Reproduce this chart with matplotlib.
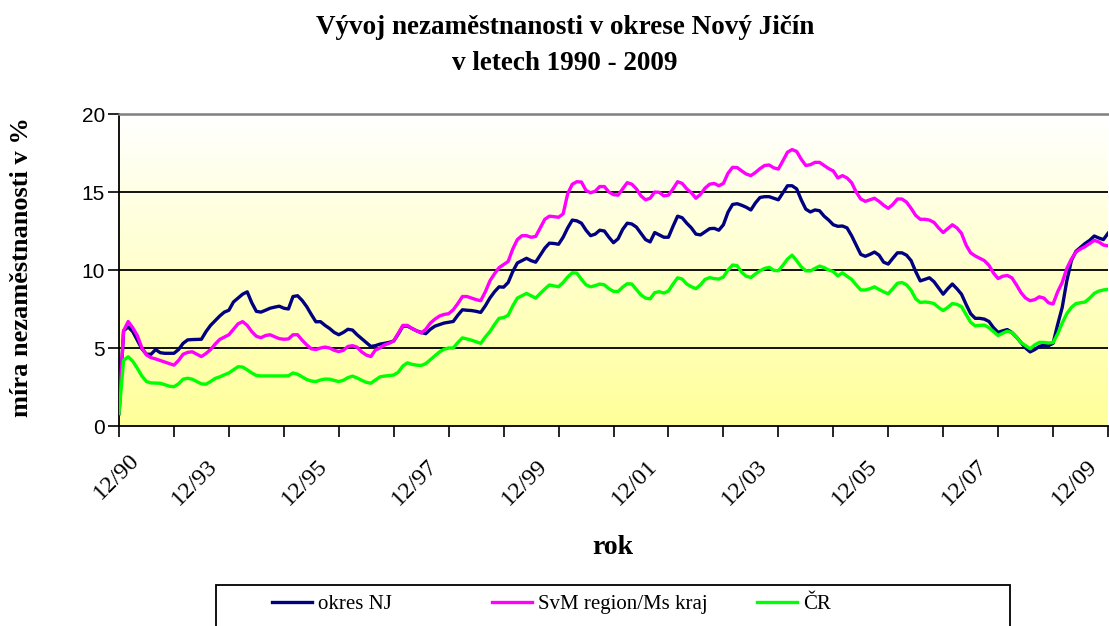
import matplotlib
matplotlib.use('Agg')
import matplotlib.pyplot as plt
import numpy as np
from matplotlib.colors import LinearSegmentedColormap
from matplotlib.patches import Rectangle
from matplotlib.transforms import ScaledTranslation

# ---- data (monthly unemployment rate, %) ----
okres_nj = [
    0.8, 6.1, 6.35, 6.05, 5.5, 4.95, 4.6, 4.6, 4.9, 4.7, 4.66, 4.66, 4.66, 4.9, 5.3, 5.52, 5.54, 5.55, 5.56, 6.05,
    6.45, 6.75, 7.05, 7.3, 7.42, 7.95, 8.2, 8.45, 8.6, 7.9, 7.35, 7.3, 7.42, 7.55, 7.62, 7.68, 7.55, 7.5, 8.3, 8.35,
    8.05, 7.65, 7.15, 6.68, 6.69, 6.45, 6.25, 6.0, 5.85, 6.0, 6.2, 6.15, 5.85, 5.6, 5.35, 5.1, 5.15, 5.25, 5.3, 5.36,
    5.45, 5.9, 6.4, 6.4, 6.25, 6.1, 6.0, 5.92, 6.2, 6.4, 6.5, 6.6, 6.65, 6.7, 7.1, 7.45, 7.42, 7.4, 7.35, 7.28,
    7.7, 8.2, 8.6, 8.92, 8.9, 9.2, 9.9, 10.45, 10.6, 10.75, 10.6, 10.5, 10.95, 11.4, 11.72, 11.7, 11.65, 12.1, 12.7, 13.2,
    13.15, 13.0, 12.55, 12.2, 12.3, 12.55, 12.5, 12.1, 11.75, 12.0, 12.6, 13.0, 12.95, 12.75, 12.35, 11.95, 11.8, 12.4, 12.25, 12.1,
    12.1, 12.8, 13.45, 13.35, 13.0, 12.7, 12.3, 12.25, 12.45, 12.65, 12.67, 12.55, 12.9, 13.7, 14.2, 14.25, 14.15, 14.02, 13.85, 14.3,
    14.65, 14.7, 14.7, 14.6, 14.5, 14.95, 15.4, 15.4, 15.2, 14.5, 13.9, 13.72, 13.85, 13.8, 13.45, 13.2, 12.9, 12.8, 12.82, 12.7,
    12.2, 11.6, 11.0, 10.88, 11.0, 11.15, 10.95, 10.5, 10.38, 10.75, 11.1, 11.1, 10.95, 10.6, 9.9, 9.3, 9.4, 9.5, 9.25, 8.85,
    8.45, 8.8, 9.1, 8.8, 8.45, 7.8, 7.2, 6.9, 6.9, 6.85, 6.7, 6.3, 6.0, 6.1, 6.18, 6.0, 5.7, 5.35, 5.0, 4.75,
    4.9, 5.1, 5.18, 5.15, 5.3, 6.5, 7.6, 9.3, 10.6, 11.2, 11.45, 11.7, 11.9, 12.18, 12.05, 11.95, 12.35,
]
svm_region = [
    0.8, 6.1, 6.7, 6.3, 5.8, 5.0, 4.55, 4.38, 4.3, 4.2, 4.1, 4.0, 3.9, 4.2, 4.6, 4.72, 4.76, 4.6, 4.45, 4.65,
    4.9, 5.25, 5.55, 5.7, 5.85, 6.2, 6.55, 6.69, 6.45, 6.05, 5.75, 5.66, 5.8, 5.85, 5.72, 5.6, 5.56, 5.58, 5.85, 5.85,
    5.5, 5.2, 4.95, 4.9, 5.0, 5.06, 5.0, 4.85, 4.77, 4.85, 5.1, 5.15, 5.05, 4.75, 4.55, 4.45, 4.87, 5.0, 5.2, 5.3,
    5.45, 5.95, 6.45, 6.45, 6.25, 6.1, 5.96, 6.2, 6.6, 6.85, 7.05, 7.15, 7.2, 7.45, 7.85, 8.3, 8.3, 8.2, 8.1, 8.03,
    8.6, 9.3, 9.75, 10.15, 10.35, 10.55, 11.35, 11.95, 12.2, 12.2, 12.1, 12.15, 12.7, 13.25, 13.45, 13.42, 13.38, 13.6, 14.9, 15.5,
    15.66, 15.64, 15.1, 14.95, 15.05, 15.35, 15.35, 15.0, 14.83, 14.8, 15.2, 15.6, 15.5, 15.2, 14.75, 14.5, 14.6, 15.0, 14.98, 14.75,
    14.8, 15.2, 15.66, 15.55, 15.2, 14.95, 14.6, 14.85, 15.25, 15.5, 15.55, 15.4, 15.55, 16.2, 16.58, 16.57, 16.35, 16.15, 16.05, 16.25,
    16.5, 16.7, 16.73, 16.55, 16.47, 17.0, 17.55, 17.72, 17.6, 17.1, 16.7, 16.75, 16.9, 16.9, 16.7, 16.5, 16.35, 15.9, 16.05, 15.9,
    15.6, 15.0, 14.55, 14.4, 14.5, 14.6, 14.4, 14.15, 13.95, 14.2, 14.55, 14.55, 14.35, 13.95, 13.5, 13.25, 13.25, 13.2, 13.05, 12.7,
    12.4, 12.65, 12.9, 12.7, 12.35, 11.6, 11.1, 10.9, 10.75, 10.6, 10.3, 9.8, 9.45, 9.6, 9.65, 9.5, 9.05, 8.55, 8.2, 8.03,
    8.1, 8.28, 8.2, 7.9, 7.82, 8.6, 9.2, 10.1, 10.7, 11.15, 11.35, 11.5, 11.7, 11.9, 11.8, 11.6, 11.55,
]
cr = [
    0.8, 4.2, 4.44, 4.15, 3.7, 3.2, 2.85, 2.76, 2.75, 2.74, 2.65, 2.55, 2.52, 2.7, 3.0, 3.06, 3.0, 2.85, 2.7, 2.68,
    2.85, 3.05, 3.15, 3.28, 3.4, 3.6, 3.8, 3.78, 3.6, 3.4, 3.24, 3.21, 3.21, 3.21, 3.21, 3.21, 3.21, 3.22, 3.4, 3.32,
    3.15, 2.98, 2.88, 2.85, 2.95, 3.01, 3.0, 2.92, 2.85, 2.93, 3.1, 3.2, 3.08, 2.93, 2.8, 2.74, 2.95, 3.15, 3.2, 3.23,
    3.27, 3.45, 3.85, 4.05, 3.95, 3.9, 3.88, 4.0, 4.25, 4.5, 4.75, 4.92, 5.0, 5.0, 5.35, 5.65, 5.58, 5.5, 5.4, 5.3,
    5.7, 6.05, 6.5, 6.9, 6.95, 7.1, 7.7, 8.2, 8.35, 8.5, 8.35, 8.2, 8.5, 8.78, 9.04, 8.98, 8.93, 9.2, 9.55, 9.82,
    9.8, 9.4, 9.05, 8.92, 9.0, 9.1, 9.05, 8.8, 8.63, 8.62, 8.9, 9.12, 9.1, 8.75, 8.4, 8.2, 8.15, 8.55, 8.61, 8.52,
    8.65, 9.1, 9.5, 9.42, 9.1, 8.93, 8.8, 9.05, 9.4, 9.51, 9.45, 9.42, 9.55, 10.0, 10.32, 10.28, 9.85, 9.6, 9.52, 9.75,
    9.95, 10.1, 10.17, 9.98, 9.95, 10.3, 10.7, 10.95, 10.6, 10.2, 9.95, 9.94, 10.1, 10.25, 10.15, 10.0, 9.9, 9.62, 9.82, 9.6,
    9.4, 9.05, 8.72, 8.72, 8.8, 8.92, 8.75, 8.6, 8.48, 8.8, 9.15, 9.2, 9.05, 8.7, 8.15, 7.92, 7.95, 7.92, 7.85, 7.6,
    7.4, 7.6, 7.85, 7.8, 7.65, 7.15, 6.65, 6.42, 6.45, 6.47, 6.3, 6.05, 5.8, 5.95, 6.08, 6.0, 5.7, 5.35, 5.15, 4.95,
    5.2, 5.36, 5.36, 5.32, 5.35, 5.9, 6.6, 7.2, 7.6, 7.85, 7.9, 7.95, 8.2, 8.5, 8.65, 8.72, 8.76,
]
series_labels = ['okres NJ', 'SvM region/Ms kraj', 'ČR']
series_colors = ['#000080', '#FF00FF', '#00FF00']
x_tick_labels = ['12/90', '12/93', '12/95', '12/97', '12/99', '12/01', '12/03', '12/05', '12/07', '12/09']
y_ticks = [0, 5, 10, 15, 20]

W, H = 1109, 626
fig = plt.figure(figsize=(W / 100, H / 100), dpi=100)
ax = fig.add_axes([119 / W, 200 / H, 989 / W, 312 / H])

n = len(okres_nj)
x = np.arange(n)

# gradient background (white top -> pale yellow bottom)
cmap = LinearSegmentedColormap.from_list('bg', ['#FFFF99', '#FFFFFF'])
grad = np.linspace(0, 1, 256).reshape(-1, 1)
ax.imshow(grad, extent=[0, 1, 0, 1], transform=ax.transAxes, aspect='auto',
          cmap=cmap, origin='lower', zorder=0)

# grid lines
for yv in y_ticks[1:-1]:
    ax.axhline(yv, color='black', lw=1.3, zorder=1)

lines = []
for i, (vals, lab, col) in enumerate(zip([okres_nj, svm_region, cr], series_labels, series_colors)):
    ln, = ax.plot(x, vals, color=col, lw=2.4, label=lab, zorder=3 + i, solid_joinstyle='round')
    lines.append(ln)

ax.set_xlim(0, n - 1)
ax.set_ylim(0, 20)

ax.set_yticks(y_ticks)
ax.set_yticklabels([str(v) for v in y_ticks], fontsize=15, family='Liberation Sans')
ax.tick_params(axis='y', direction='out', length=8, width=1.2, pad=2)

major = np.arange(0, n, 24)
minor = np.arange(12, n, 24)
ax.set_xticks(major)
ax.set_xticks(minor, minor=True)
ax.set_xticklabels(x_tick_labels, fontsize=17.5, family='Liberation Serif', rotation=45,
                   ha='right', va='top')
ax.tick_params(axis='x', which='both', direction='out', length=8, width=1.2, pad=13)
for k, lbl in enumerate(ax.get_xticklabels()):
    if k == 0:
        off = ScaledTranslation(24 / 100, 6 / 100, fig.dpi_scale_trans)
    else:
        off = ScaledTranslation(-7 / 100, 0, fig.dpi_scale_trans)
    lbl.set_transform(lbl.get_transform() + off)

for s in ['left', 'bottom']:
    ax.spines[s].set_color('black')
    ax.spines[s].set_linewidth(1.3)
ax.spines['top'].set_color('#808080')
ax.spines['top'].set_linewidth(1.8)
ax.spines['right'].set_visible(False)

# titles and axis labels
fig.text(565 / W, 1 - 28 / H, 'Vývoj nezaměstnanosti v okrese Nový Jičín', ha='center', va='center',
         fontsize=19.5, fontweight='bold', family='Liberation Serif')
fig.text(565 / W, 1 - 63 / H, 'v letech 1990 - 2009', ha='center', va='center',
         fontsize=19.5, fontweight='bold', family='Liberation Serif')
fig.text(22 / W, 1 - 267 / H, 'míra nezaměstnanosti v %', rotation=90, ha='center', va='center',
         fontsize=19, fontweight='bold', family='Liberation Serif')
fig.text(613 / W, 1 - 548 / H, 'rok', ha='center', va='center',
         fontsize=20, fontweight='bold', family='Liberation Serif')

# legend: frame + three entries
fig.patches.append(Rectangle((216 / W, -0.05), (1010 - 216) / W, (626 - 585) / H + 0.05,
                             transform=fig.transFigure, fill=False, ec='black', lw=1.3))
legend_x = [272, 492, 757]
for ln, lab, lx in zip(lines, series_labels, legend_x):
    fig.legend([ln], [lab], loc='center left', bbox_to_anchor=(lx / W, 1 - 604 / H),
               frameon=False, borderpad=0, borderaxespad=0, handlelength=1.9,
               handletextpad=0.3, prop={'family': 'Liberation Serif', 'size': 15})

fig.savefig('out.png', dpi=100)
